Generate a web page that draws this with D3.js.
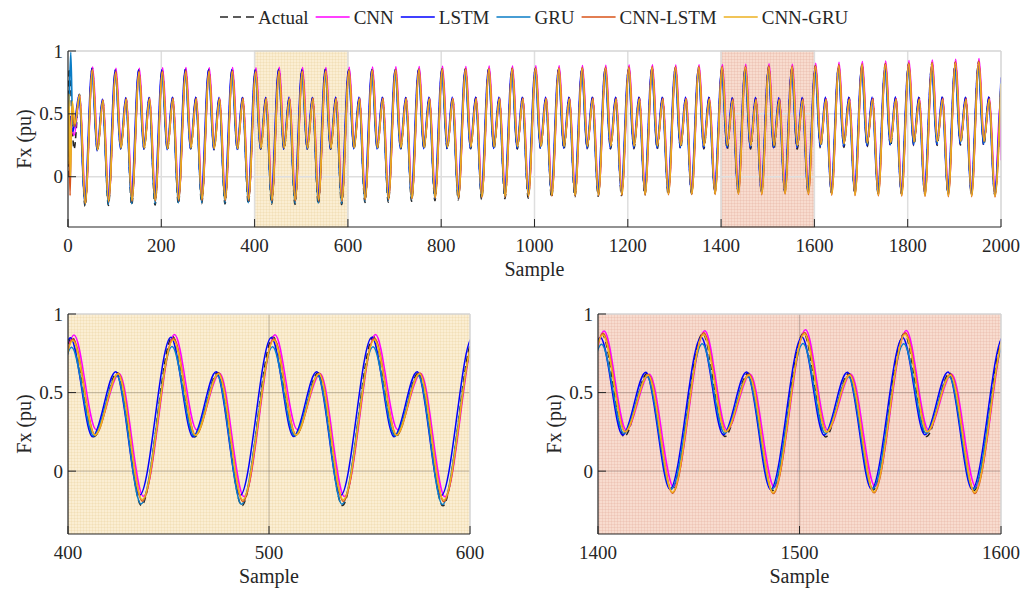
<!DOCTYPE html>
<html><head><meta charset="utf-8">
<script src="https://cdn.jsdelivr.net/npm/d3@7"></script>
<style>
body{margin:0;background:#fff}
svg{display:block}
</style>
</head><body>
<svg id="chart" width="1033" height="592"></svg>
<script>
// ---------------- DATA ----------------
const seriesNames = ["Actual", "CNN", "LSTM", "GRU", "CNN-LSTM", "CNN-GRU"];
const topTicksX = [0, 200, 400, 600, 800, 1000, 1200, 1400, 1600, 1800, 2000];
const zoomTicksA = [400, 500, 600];
const zoomTicksB = [1400, 1500, 1600];
const yTicks = [0, 0.5, 1];
const bandA = [400, 600];
const bandB = [1400, 1600];

// every cycle is 50 samples long; extrema read at these offsets inside a cycle
const cycleStart = [0,50,100,150,200,250,300,350,400,450,500,550,600,650,700,750,800,850,900,950,
  1000,1050,1100,1150,1200,1250,1300,1350,1400,1450,1500,1550,1600,1650,1700,1750,1800,1850,1900,1950];
const extremumOffset = [2, 13, 24.5, 36.5]; // high peak, shallow trough, mid peak, deep trough
const seriesLag = [0, 1.0, -0.8, -0.2, 0.5, 0.4]; // sample lag of each series vs. Actual

// start-up transient (sample, value)
const startActual = [[0, 0.0], [2.5, 0.86], [13, 0.22]];
const startCNN = [[0, 0.45], [3, 0.47], [7, 0.40], [13, 0.33]];
const startLSTM = [[0, 0.30], [5, 0.48], [10, 0.36], [14, 0.42]];
const startGRU = [[0, 0.45], [2, 0.55], [6, 0.99], [10, 0.42], [15, 0.40]];
const startCNNLSTM = [[0, 0.55], [2, 0.35], [4.5, -0.15], [8, 0.55], [14, 0.40]];
const startCNNGRU = [[0, 0.10], [2, 0.66], [5, 0.0], [9, 0.60], [15, 0.42]];

// extrema values: cycle 0 (mid peak, deep trough), then cycles 1..39 (high peak, trough, mid peak, deep trough)
const valActual = [
 .655,-.235,
 .865,.205,.612,-.228, .850,.222,.624,-.226, .851,.220,.626,-.225, .853,.214,.627,-.216,
 .856,.222,.628,-.214, .855,.215,.627,-.216, .856,.216,.627,-.215, .852,.219,.626,-.218,
 .857,.218,.627,-.220, .855,.220,.626,-.219, .856,.219,.627,-.221, .855,.221,.628,-.205,
 .857,.220,.628,-.203, .858,.219,.627,-.195, .860,.221,.628,-.190, .861,.220,.628,-.184,
 .860,.222,.629,-.180, .862,.221,.628,-.175, .863,.220,.628,-.170, .865,.222,.629,-.165,
 .864,.221,.628,-.160, .866,.222,.629,-.155, .867,.221,.628,-.150, .869,.222,.629,-.145,
 .870,.221,.628,-.140, .869,.222,.629,-.135, .871,.221,.628,-.130, .872,.219,.623,-.122,
 .875,.220,.624,-.125, .878,.218,.623,-.120, .876,.220,.624,-.124, .882,.228,.627,-.128,
 .888,.233,.628,-.131, .893,.238,.628,-.133, .897,.243,.629,-.135, .901,.246,.628,-.137,
 .905,.249,.629,-.139, .910,.252,.628,-.140, .916,.250,.629,-.142];
const valCNN = [
 .640,-.180,
 .872,.250,.606,-.168, .862,.264,.618,-.165, .863,.262,.620,-.166, .866,.258,.621,-.160,
 .868,.265,.622,-.158, .867,.260,.621,-.160, .869,.261,.621,-.159, .866,.264,.620,-.160,
 .870,.263,.621,-.162, .868,.265,.620,-.161, .869,.264,.621,-.163, .870,.265,.622,-.150,
 .872,.264,.622,-.148, .874,.263,.621,-.142, .876,.265,.622,-.138, .878,.264,.622,-.134,
 .877,.266,.623,-.131, .880,.265,.622,-.128, .881,.264,.622,-.124, .883,.266,.623,-.121,
 .882,.265,.622,-.118, .884,.266,.623,-.115, .886,.265,.622,-.112, .888,.266,.623,-.109,
 .890,.265,.622,-.106, .889,.266,.623,-.104, .891,.265,.622,-.102, .892,.262,.616,-.100,
 .894,.263,.617,-.102, .899,.261,.616,-.098, .895,.263,.617,-.101, .903,.270,.621,-.108,
 .910,.275,.622,-.111, .916,.280,.622,-.113, .920,.285,.623,-.115, .925,.288,.622,-.117,
 .929,.291,.623,-.119, .934,.294,.622,-.120, .939,.292,.623,-.122];
const valLSTM = [
 .648,-.200,
 .860,.205,.618,-.160, .848,.221,.630,-.155, .849,.219,.632,-.154, .850,.214,.633,-.150,
 .852,.221,.633,-.149, .851,.215,.632,-.150, .852,.216,.632,-.149, .849,.219,.632,-.152,
 .852,.218,.633,-.154, .851,.220,.632,-.153, .852,.219,.633,-.155, .851,.221,.633,-.147,
 .853,.220,.633,-.145, .852,.221,.632,-.141, .854,.222,.633,-.138, .853,.223,.633,-.135,
 .852,.224,.634,-.132, .854,.224,.633,-.129, .853,.225,.633,-.127, .855,.226,.634,-.125,
 .854,.226,.633,-.123, .855,.227,.634,-.121, .856,.227,.633,-.120, .855,.228,.634,-.118,
 .857,.228,.633,-.117, .856,.229,.634,-.116, .857,.229,.633,-.115, .850,.230,.630,-.115,
 .852,.231,.631,-.117, .853,.229,.630,-.114, .851,.231,.631,-.116, .858,.238,.633,-.120,
 .862,.243,.634,-.122, .866,.247,.634,-.124, .870,.252,.635,-.126, .873,.255,.634,-.127,
 .876,.258,.635,-.128, .880,.261,.634,-.129, .884,.259,.635,-.130];
const valGRU = [
 .640,-.220,
 .800,.210,.595,-.220, .788,.226,.604,-.215, .789,.224,.606,-.214, .790,.219,.607,-.208,
 .792,.226,.607,-.206, .791,.220,.606,-.208, .792,.221,.606,-.207, .789,.224,.606,-.209,
 .793,.223,.607,-.211, .791,.225,.606,-.210, .792,.224,.607,-.212, .794,.226,.606,-.195,
 .796,.226,.606,-.190, .797,.227,.605,-.182, .799,.228,.606,-.175, .800,.229,.605,-.168,
 .799,.231,.606,-.161, .802,.231,.605,-.155, .803,.232,.605,-.149, .805,.234,.606,-.143,
 .804,.234,.605,-.138, .806,.235,.605,-.133, .807,.236,.604,-.129, .809,.237,.605,-.125,
 .810,.237,.604,-.121, .809,.238,.604,-.119, .811,.238,.603,-.117, .808,.240,.600,-.115,
 .810,.241,.601,-.117, .812,.239,.600,-.113, .810,.241,.601,-.116, .815,.247,.603,-.122,
 .819,.251,.604,-.125, .822,.255,.604,-.128, .825,.259,.605,-.130, .828,.262,.604,-.132,
 .830,.265,.605,-.134, .833,.267,.604,-.135, .836,.265,.605,-.137];
const valCNNLSTM = [
 .650,-.215,
 .855,.215,.610,-.200, .838,.231,.621,-.195, .839,.229,.623,-.194, .841,.224,.624,-.190,
 .844,.231,.624,-.188, .843,.225,.623,-.190, .845,.226,.623,-.189, .841,.229,.623,-.191,
 .845,.228,.624,-.193, .843,.230,.623,-.192, .845,.229,.624,-.194, .850,.231,.624,-.185,
 .853,.232,.624,-.182, .855,.233,.623,-.177, .858,.235,.624,-.172, .860,.236,.623,-.168,
 .860,.238,.624,-.164, .863,.239,.623,-.160, .865,.240,.623,-.157, .867,.242,.624,-.154,
 .867,.243,.623,-.151, .870,.244,.623,-.149, .872,.245,.622,-.147, .874,.246,.623,-.145,
 .876,.247,.622,-.143, .876,.248,.622,-.142, .878,.248,.621,-.141, .878,.250,.615,-.140,
 .880,.251,.616,-.143, .883,.249,.615,-.138, .881,.251,.616,-.142, .887,.259,.618,-.147,
 .893,.265,.619,-.150, .898,.270,.619,-.152, .902,.275,.620,-.154, .906,.279,.619,-.156,
 .910,.282,.620,-.158, .915,.285,.619,-.159, .920,.283,.620,-.161];
const valCNNGRU = [
 .652,-.210,
 .848,.214,.607,-.192, .829,.231,.617,-.186, .830,.229,.619,-.185, .832,.224,.620,-.180,
 .835,.231,.620,-.178, .834,.225,.619,-.180, .836,.226,.619,-.179, .832,.229,.619,-.181,
 .836,.228,.620,-.183, .834,.230,.619,-.182, .836,.229,.620,-.184, .841,.231,.620,-.176,
 .844,.232,.620,-.173, .846,.233,.619,-.168, .849,.235,.620,-.164, .851,.236,.619,-.160,
 .851,.238,.620,-.157, .854,.239,.619,-.153, .856,.240,.619,-.150, .858,.242,.620,-.147,
 .858,.243,.619,-.145, .861,.244,.619,-.143, .863,.245,.618,-.141, .865,.246,.619,-.139,
 .867,.247,.618,-.137, .867,.248,.618,-.136, .869,.248,.617,-.135, .868,.250,.610,-.135,
 .870,.251,.611,-.137, .873,.249,.610,-.133, .871,.251,.611,-.136, .877,.258,.613,-.141,
 .883,.264,.614,-.144, .888,.269,.614,-.146, .892,.274,.615,-.148, .896,.278,.614,-.150,
 .900,.281,.615,-.152, .905,.284,.614,-.153, .910,.282,.615,-.155];

// last samples (sample, value)
const tailActual = [[2000, 0.74]];
const tailCNN = [[1998, 0.58], [2000, 0.13]];
const tailLSTM = [[2000, 0.79]];
const tailGRU = [[2000, 0.75]];
const tailCNNLSTM = [[2000, 0.72]];
const tailCNNGRU = [[2000, 0.74]];

// ---------------- STYLE ----------------
const colors = ["#262626", "#ff00ff", "#0000ff", "#0a7dc6", "#d95319", "#edb120"];
const starts = [startActual, startCNN, startLSTM, startGRU, startCNNLSTM, startCNNGRU];
const vals = [valActual, valCNN, valLSTM, valGRU, valCNNLSTM, valCNNGRU];
const tails = [tailActual, tailCNN, tailLSTM, tailGRU, tailCNNLSTM, tailCNNGRU];

function buildPoints(i) {
  const pts = starts[i].map(d => ({ s: d[0], v: d[1] }));
  vals[i].forEach((v, j) => {
    const idx = j + 2, c = Math.floor(idx / 4), e = idx % 4;
    pts.push({ s: cycleStart[c] + extremumOffset[e] + seriesLag[i], v });
  });
  tails[i].forEach(d => pts.push({ s: d[0], v: d[1] }));
  return pts;
}
const seriesPts = seriesNames.map((n, i) => buildPoints(i));

const svg = d3.select("#chart");
const defs = svg.append("defs");

function makePattern(id, base, line) {
  const p = defs.append("pattern").attr("id", id).attr("width", 3).attr("height", 3)
    .attr("patternUnits", "userSpaceOnUse");
  p.append("rect").attr("width", 3).attr("height", 3).attr("fill", base);
  p.append("path").attr("d", "M2.5 0V3M0 2.5H3").attr("stroke", line).attr("stroke-width", 0.6);
}
makePattern("texA", "#fbeed3", "rgba(225,195,140,0.35)");
makePattern("texB", "#f8dccf", "rgba(220,160,140,0.35)");

function txt(g) {
  return g.append("text").attr("font-family", "Liberation Serif").attr("fill", "#262626");
}

let clipId = 0;
function panel(cfg) {
  const { x0, x1, y0, y1, domain, ticks, bg, lw } = cfg;
  const x = d3.scaleLinear().domain(domain).range([x0, x1]);
  const y = d3.scaleLinear().domain([-0.4, 1]).range([y1, y0]);
  const g = svg.append("g");
  const cid = "clip" + (clipId++);
  defs.append("clipPath").attr("id", cid).append("rect")
    .attr("x", x0).attr("y", y0).attr("width", x1 - x0).attr("height", y1 - y0);

  if (bg) {
    g.append("rect").attr("x", x0).attr("y", y0).attr("width", x1 - x0).attr("height", y1 - y0)
      .attr("fill", bg);
  }
  (cfg.bands || []).forEach(b => {
    g.append("rect").attr("x", x(b.range[0])).attr("y", y0)
      .attr("width", x(b.range[1]) - x(b.range[0])).attr("height", y1 - y0)
      .attr("fill", b.fill).attr("stroke", b.stroke).attr("stroke-width", 1);
  });
  const gridColor = cfg.gridColor;
  ticks.forEach(t => {
    if (t === domain[0] || t === domain[1]) return;
    g.append("line").attr("x1", x(t)).attr("x2", x(t)).attr("y1", y0).attr("y2", y1)
      .attr("stroke", gridColor).attr("stroke-width", cfg.gridW);
  });
  yTicks.forEach(t => {
    if (t === 1) return;
    g.append("line").attr("x1", x0).attr("x2", x1).attr("y1", y(t)).attr("y2", y(t))
      .attr("stroke", gridColor).attr("stroke-width", cfg.gridW);
  });

  const line = d3.line().x(d => x(d.s)).y(d => y(d.v)).curve(d3.curveMonotoneX);
  const lg = g.append("g").attr("clip-path", `url(#${cid})`);
  seriesPts.forEach((pts, i) => {
    const p = lg.append("path").attr("d", line(pts)).attr("fill", "none")
      .attr("stroke", colors[i]).attr("stroke-width", lw).attr("stroke-linejoin", "round");
    if (i === 0) p.attr("stroke-dasharray", "6,4");
  });

  g.append("line").attr("x1", x0).attr("x2", x1).attr("y1", y0).attr("y2", y0)
    .attr("stroke", "#d4d4d4").attr("stroke-width", 1.5);
  g.append("line").attr("x1", x1).attr("x2", x1).attr("y1", y0).attr("y2", y1)
    .attr("stroke", "#d4d4d4").attr("stroke-width", 1.5);
  g.append("line").attr("x1", x0).attr("x2", x1).attr("y1", y1).attr("y2", y1)
    .attr("stroke", "#262626").attr("stroke-width", 1.2);
  g.append("line").attr("x1", x0).attr("x2", x0).attr("y1", y0).attr("y2", y1)
    .attr("stroke", "#262626").attr("stroke-width", 1.2);

  ticks.forEach(t => {
    g.append("line").attr("x1", x(t)).attr("x2", x(t)).attr("y1", y1).attr("y2", y1 - 8)
      .attr("stroke", "#262626").attr("stroke-width", 1);
    txt(g).attr("x", x(t)).attr("y", y1 + 24.5).attr("text-anchor", "middle")
      .attr("font-size", 19).text(t);
  });
  yTicks.forEach(t => {
    g.append("line").attr("x1", x0).attr("x2", x0 + 8).attr("y1", y(t)).attr("y2", y(t))
      .attr("stroke", "#262626").attr("stroke-width", 1);
    txt(g).attr("x", x0 - 5).attr("y", y(t) + 6.5).attr("text-anchor", "end")
      .attr("font-size", 19).text(t);
  });
  txt(g).attr("x", (x0 + x1) / 2).attr("y", y1 + 48.5).attr("text-anchor", "middle")
    .attr("font-size", 20).text("Sample");
  txt(g).attr("transform", `translate(${x0 - 37},${(y0 + y1) / 2}) rotate(-90)`)
    .attr("text-anchor", "middle").attr("font-size", 20).text("Fx (pu)");
}

panel({ x0: 68, x1: 1001, y0: 51, y1: 227, domain: [0, 2000], ticks: topTicksX, lw: 1.6,
  gridColor: "#dedede", gridW: 1.5,
  bands: [{ range: bandA, fill: "url(#texA)", stroke: "#e2cfa8" },
          { range: bandB, fill: "url(#texB)", stroke: "#d8ad9c" }] });
panel({ x0: 68, x1: 470, y0: 314, y1: 534, domain: bandA, ticks: zoomTicksA, lw: 1.5,
  bg: "url(#texA)", gridColor: "rgba(110,100,90,0.35)", gridW: 1.2 });
panel({ x0: 598, x1: 1001, y0: 314, y1: 534, domain: bandB, ticks: zoomTicksB, lw: 1.5,
  bg: "url(#texB)", gridColor: "rgba(110,90,85,0.35)", gridW: 1.2 });

// legend
const leg = svg.append("g");
let lx = 220;
const ly = 17;
seriesNames.forEach((n, i) => {
  const l = leg.append("line").attr("x1", lx).attr("x2", lx + 34).attr("y1", ly).attr("y2", ly)
    .attr("stroke", colors[i]).attr("stroke-width", 1.6);
  if (i === 0) l.attr("stroke-dasharray", "8,5");
  lx += 38;
  const t = txt(leg).attr("x", lx).attr("y", ly + 6.5).attr("font-size", 19).text(n);
  lx += t.node().getComputedTextLength() + 7;
});
</script>
</body></html>
